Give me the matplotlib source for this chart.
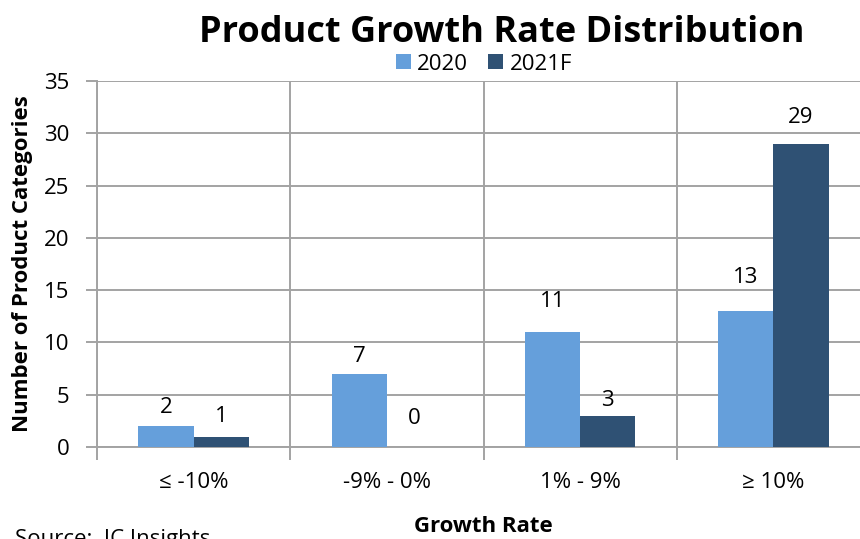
import numpy as np
import matplotlib
matplotlib.use("Agg")
import matplotlib.pyplot as plt
from matplotlib.ticker import FixedLocator

# ================================================================
# DATA
# ================================================================
categories = ["\u2264 -10%", "-9% - 0%", "1% - 9%", "\u2265 10%"]
series_names = ["2020", "2021F"]
values_2020 = [2, 7, 11, 13]
values_2021f = [1, 0, 3, 29]

# label nudges above bar tops (pixels), as placed in the original chart
nudge_2020 = [19, 17, 30, 34]
nudge_2021f = [20, 29, 15, 26]

COL_2020 = "#659FDB"
COL_2021F = "#2F5174"
GRID = "#A3A3A3"

plt.rcParams["font.family"] = ["Open Sans", "DejaVu Sans"]

# ================================================================
# FIGURE
# ================================================================
W, H = 860, 539
fig = plt.figure(figsize=(W / 100, H / 100), dpi=100)
ax = fig.add_axes([97 / W, 1 - 447 / H, (870 - 97) / W, (447 - 81) / H])

x = np.arange(len(categories))
w = 1 / 3.5  # Excel style, gap width 150%

b1 = ax.bar(x - w / 2, values_2020, w, color=COL_2020, label=series_names[0], zorder=3)
b2 = ax.bar(x + w / 2, values_2021f, w, color=COL_2021F, label=series_names[1], zorder=3)

FS = 16
px = 72 / 100  # pixels -> points
for bars, vals, nud in [(b1, values_2020, nudge_2020), (b2, values_2021f, nudge_2021f)]:
    for r, v, n in zip(bars, vals, nud):
        ax.annotate(str(v), (r.get_x() + r.get_width() / 2, v),
                    xytext=(0, n * px), textcoords="offset points",
                    ha="center", va="center", fontsize=FS, color="black", zorder=4)

ax.set_xlim(-0.5, len(categories) - 0.5)
ax.set_ylim(0, 35)
ax.set_yticks(range(0, 36, 5))
ax.set_xticks(x)
ax.set_xticklabels(categories)
ax.xaxis.set_minor_locator(FixedLocator(np.arange(-0.5, len(categories), 1)))

ax.tick_params(axis="y", length=8, width=1.4, color=GRID, pad=12, labelsize=FS)
ax.tick_params(axis="x", which="major", length=0, pad=18, labelsize=FS)
ax.tick_params(axis="x", which="minor", length=9, width=1.4, color=GRID)

ax.grid(axis="y", which="major", color=GRID, lw=1.4, zorder=0)
ax.grid(axis="x", which="minor", color=GRID, lw=1.4, zorder=0)
ax.grid(axis="x", which="major", visible=False)

for s in ["top", "right"]:
    ax.spines[s].set_visible(False)
for s in ["left", "bottom"]:
    ax.spines[s].set_color(GRID)
    ax.spines[s].set_linewidth(1.4)

ax.set_ylabel("Number of Product Categories", fontsize=16, fontweight="bold")
ax.yaxis.set_label_coords(-(97 - 33) / (870 - 97), 0.5)

# titles and side texts
fig.text(502 / W, 1 - 42 / H, "Product Growth Rate Distribution",
         ha="center", va="baseline", fontsize=26, fontweight="bold")
fig.text(483 / W, 1 - 532 / H, "Growth Rate",
         ha="center", va="baseline", fontsize=16, fontweight="bold")
fig.text(15 / W, 1 - 545 / H, "Source:  IC Insights",
         ha="left", va="baseline", fontsize=16)

fig.legend(handles=[b1, b2], loc="center", bbox_to_anchor=(484 / W, 1 - 64 / H),
           ncol=2, frameon=False, fontsize=FS, handlelength=0.65, handleheight=0.65,
           handletextpad=0.3, columnspacing=0.9, borderaxespad=0)

fig.savefig("out.png", dpi=100)
